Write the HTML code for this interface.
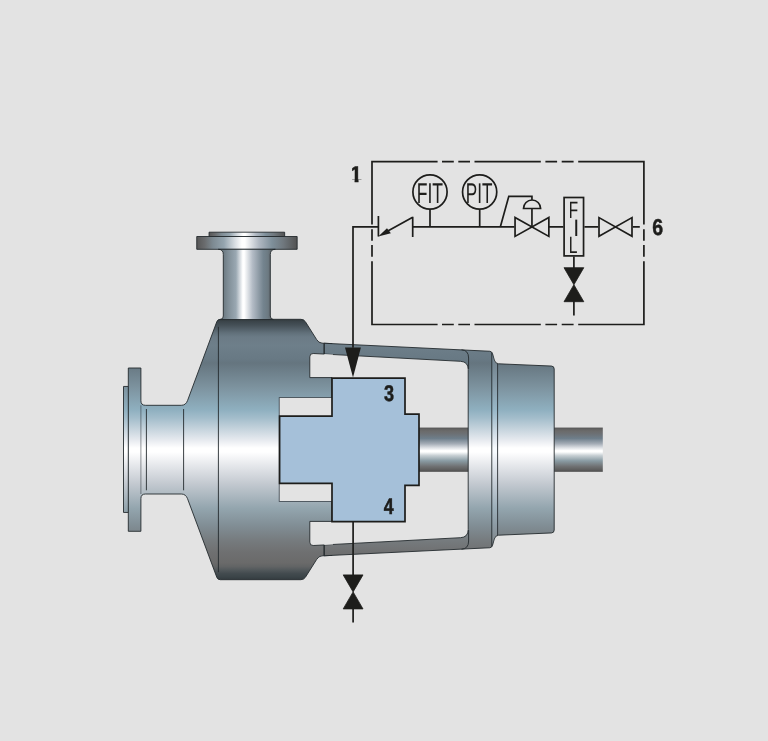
<!DOCTYPE html>
<html><head><meta charset="utf-8"><title>Pump seal plan</title>
<style>
html,body{margin:0;padding:0;background:#e3e3e3;}
body{width:768px;height:741px;overflow:hidden;}
svg{display:block;}
text{font-family:"Liberation Sans",sans-serif;fill:#1d1d1b;text-rendering:geometricPrecision;}
.b{font-weight:bold;stroke:#1d1d1b;stroke-width:0.5px;}
.th{stroke:#e3e3e3;stroke-width:0.2px;}
.l{stroke:#1d1d1b;stroke-width:1.7;fill:none;stroke-linecap:butt;stroke-linejoin:miter;}
.o{stroke:#242a2e;stroke-width:0.9;stroke-linejoin:round;}
.t{stroke:#242a2e;stroke-width:0.9;fill:none;}
</style></head><body>
<svg width="768" height="741" viewBox="0 0 768 741">
<defs>
<linearGradient id="gb" gradientUnits="userSpaceOnUse" x1="0" y1="319" x2="0" y2="580">

<stop offset="0.0011" stop-color="#2e363a"/>
<stop offset="0.0077" stop-color="#3a4348"/>
<stop offset="0.0230" stop-color="#444f56"/>
<stop offset="0.0383" stop-color="#525f68"/>
<stop offset="0.0536" stop-color="#61707a"/>
<stop offset="0.0690" stop-color="#6b7b86"/>
<stop offset="0.0996" stop-color="#6e7f8a"/>
<stop offset="0.1533" stop-color="#687984"/>
<stop offset="0.1686" stop-color="#65757f"/>
<stop offset="0.2628" stop-color="#7d939f"/>
<stop offset="0.3487" stop-color="#8fb0c0"/>
<stop offset="0.3793" stop-color="#a3bdcb"/>
<stop offset="0.4061" stop-color="#b9cbd6"/>
<stop offset="0.4655" stop-color="#e8ebf0"/>
<stop offset="0.4943" stop-color="#ffffff"/>
<stop offset="0.5096" stop-color="#ffffff"/>
<stop offset="0.5594" stop-color="#e6e8ec"/>
<stop offset="0.6314" stop-color="#c3c9d0"/>
<stop offset="0.7257" stop-color="#93a5ae"/>
<stop offset="0.7908" stop-color="#818e95"/>
<stop offset="0.8487" stop-color="#767b7e"/>
<stop offset="0.8927" stop-color="#6f7071"/>
<stop offset="0.9349" stop-color="#6a6a6a"/>
<stop offset="0.9483" stop-color="#626465"/>
<stop offset="0.9617" stop-color="#52585b"/>
<stop offset="0.9751" stop-color="#434b4f"/>
<stop offset="0.9885" stop-color="#3b4448"/>
<stop offset="0.9985" stop-color="#333b3f"/>
</linearGradient>
<linearGradient id="gs" x1="0" y1="0" x2="0" y2="1">
<stop offset="0" stop-color="#4a4a4a"/><stop offset="0.025" stop-color="#606060"/><stop offset="0.08" stop-color="#6b6b6b"/><stop offset="0.14" stop-color="#6c7074"/>
<stop offset="0.245" stop-color="#6e7e8a"/><stop offset="0.365" stop-color="#a4acb6"/><stop offset="0.46" stop-color="#dfe2e6"/><stop offset="0.52" stop-color="#ffffff"/><stop offset="0.55" stop-color="#ffffff"/>
<stop offset="0.63" stop-color="#c8d0d4"/><stop offset="0.75" stop-color="#8a9ca4"/><stop offset="0.875" stop-color="#707274"/><stop offset="0.96" stop-color="#5c5c5c"/><stop offset="1" stop-color="#4a4a4a"/>
</linearGradient>
<linearGradient id="gn" x1="0" y1="0" x2="1" y2="0">
<stop offset="0" stop-color="#565656"/><stop offset="0.08" stop-color="#6a6c6e"/><stop offset="0.16" stop-color="#7d8a92"/><stop offset="0.27" stop-color="#94a4ae"/>
<stop offset="0.38" stop-color="#d8dde2"/><stop offset="0.45" stop-color="#ffffff"/><stop offset="0.48" stop-color="#ffffff"/>
<stop offset="0.62" stop-color="#b0b8c2"/><stop offset="0.75" stop-color="#7e8f9a"/><stop offset="0.86" stop-color="#70787e"/><stop offset="1" stop-color="#525252"/>
</linearGradient>
<linearGradient id="gk" gradientUnits="userSpaceOnUse" x1="223.3" y1="0" x2="270.3" y2="0">
<stop offset="0" stop-color="#6c7a82"/><stop offset="0.1" stop-color="#7f8d96"/><stop offset="0.27" stop-color="#9aa8b2"/><stop offset="0.37" stop-color="#e0e4e8"/>
<stop offset="0.415" stop-color="#ffffff"/><stop offset="0.445" stop-color="#ffffff"/><stop offset="0.62" stop-color="#b4bcc6"/><stop offset="0.85" stop-color="#74848f"/>
<stop offset="0.95" stop-color="#6c7a82"/><stop offset="1" stop-color="#646c72"/>
</linearGradient>
</defs>

<rect width="768" height="741" fill="#e3e3e3"/>
<g class="o">
<rect x="196.75" y="236.5" width="100.4" height="12.8" fill="url(#gn)"/>
<rect x="209.05" y="232.2" width="75.6" height="4.3" fill="url(#gn)"/>
</g>
<rect x="415" y="427.6" width="56" height="44.2" fill="url(#gs)"/>
<rect x="553" y="427.6" width="49.8" height="44.2" fill="url(#gs)"/>
<g class="o" fill="url(#gb)">
<rect x="123.5" y="386.45" width="5" height="126.00000000000006"/>
<path d="M128.3 368 H140.9 V400.8 Q140.9 405.3 145.4 405.3 H181.3 Q185.8 405.3 187.54 400.6 L216.85 321.6 Q217.7 319.3 220.2 319.3
 H300.8 Q303.9 319.3 305.4 321.7 L316.6 339.5 Q318.6 342.9 322 343.15 L324 343.25 L332 343.6 V555.4 L324 555.75 L322 555.85 Q318.6 556.1 316.6 559.5 L305.4 577.3 Q303.9 579.7 300.8 579.7 H220.2 Q217.7 579.7 216.85 577.4
 L187.54 498.7 Q185.8 494.0 181.3 494.0 H145.4 Q140.9 494.0 140.9 498.5 V531.3 H128.3 Z"/>
</g>
<path class="t" d="M146.4 409 V490.3 M183.6 409 V490.3 M218.4 326.8 V572.2"/>
<path class="t" style="opacity:.55" d="M140.9 405.3 V494.0"/>
<path class="o" d="M220.3 319.5 Q223.3 319.3 223.3 316 V254.5 Q223.3 249.3 218.3 249.3 H275.3 Q270.3 249.3 270.3 254.5 V316 Q270.3 319.3 273.3 319.5 Z" fill="url(#gk)"/>
<path class="o" d="M324 343.25 L489.8 351.25 Q491.8 351.45 492.5 353.6 L494.3 360 Q495.3 363.6 498.5 363.8 L551.5 366.05 Q554.2 366.2 554.2 369
 V530.0 Q554.2 532.8 551.5 532.95 L498.5 535.2 Q495.3 535.4 494.3 539.0 L492.5 545.4 Q491.8 547.55 489.8 547.75 L324 555.75
 V544.95 L460.5 537.7 Q468.2 537.3 468.2 529.5 V369.5 Q468.2 361.7 460.5 361.3 L324 354.05 Z" fill="url(#gb)"/>
<path class="t" d="M491.8 352.5 V546.5 M497.6 364 V535.0"/>
<path class="t" d="M461.5 349.75 Q468.6 350.2 468.6 358 V369 M461.5 549.25 Q468.6 548.8 468.6 541.0 V530.0"/>
<path d="M492.3 354 L494.3 360 Q495.3 363.6 497.2 363.8 V535.2 Q495.3 535.4 494.3 539.0 L492.3 545.0 Z" fill="#cfe6f7" opacity="0.15"/>
<path class="t" d="M324.3 343.25 V354.05 M324.3 555.75 V544.95"/>
<path fill="#e3e3e3" d="M333 354.5 L313.2 353.5 Q309.8 353.3 309.8 356.8 V377.6 H333 Z"/>
<path class="t" d="M324.3 354.05 L313.2 353.5 Q309.8 353.3 309.8 356.8 V377.6 H332"/>
<path fill="#e3e3e3" d="M333 544.5 L313.2 545.5 Q309.8 545.7 309.8 542.2 V521.4 H333 Z"/>
<path class="t" d="M324.3 544.95 L313.2 545.5 Q309.8 545.7 309.8 542.2 V521.4 H332"/>
<rect fill="#e3e3e3" stroke="#39424a" stroke-width="0.8" x="279.2" y="397.6" width="54" height="103.79999999999995"/>
<path d="M332 378.1 H405 V414.2 H419 V485.4 H405 V521.7 H332 V483.4 H279.6 V416.1 H332 Z" fill="#a5c0d9" stroke="#1d1d1b" stroke-width="1.7" stroke-linejoin="miter"/>
<g class="l">
<path d="M371.15 161.7 H437.6 M442 161.7 H453.8 M458.3 161.7 H470 M474.5 161.7 H540.8 M545.4 161.7 H557.1 M561.7 161.7 H573.6 M578.2 161.7 H644.75 M371.15 324.5 H437.6 M442 324.5 H453.8 M458.3 324.5 H470 M474.5 324.5 H540.8 M545.4 324.5 H557.1 M561.7 324.5 H573.6 M578.2 324.5 H644.75 M372.0 161.7 V224.6 M372.0 229.2 V240.7 M372.0 245 V256.8 M372.0 261.3 V324.5 M643.9 161.7 V224.6 M643.9 229.2 V240.7 M643.9 245 V256.8 M643.9 261.3 V324.5"/>
<path d="M353 347.8 V226.9 H378.4 M412.7 226.9 H514.4 M549 226.9 H563.4 M584.4 226.9 H598.3 M632.8 226.9 H639.8"/>
<path d="M378.4 215.9 V236.4 M412.7 216.8 V236.9 M412.7 217.2 L386 232"/>
<path d="M430 209.5 V226.9 M479.7 209.5 V226.9"/>
<circle cx="430.0" cy="192.05" r="17.1"/><circle cx="479.65" cy="192.05" r="17.1"/>
<path d="M515.05 217.4 V236.4 L548.85 217.4 V236.4 Z"/>
<path d="M531.95 226.9 V208.5 M523.5 208.5 H540.6 A8.55 8.5 0 0 0 523.5 208.5 Z M531.95 200 V196.3 H508.8 L500.3 226.9"/>
<rect x="564.1" y="197.5" width="19.45" height="58.4"/>
<path d="M599.0 217.6 V236.20000000000002 L632.0 217.6 V236.20000000000002 Z"/>
<path d="M573.9 256.6 V268 M573.9 301 V315.6"/>
<path d="M353.1 522 V575 M353.1 609 V622.5"/>
</g>
<g fill="#1d1d1b">
<path d="M378.2 236.4 L387 228.2 L390.9 233.2 Z"/>
<path d="M345 347.5 H360.9 L353 377.6 Z"/>
<path d="M564.0 267.7 H583.8 L573.9 284.7 L583.8 301.7 H564.0 L573.9 284.7 Z" stroke="#1d1d1b" stroke-width="0.8"/>
<path d="M343.2 574.9 H363.0 L353.1 591.9 L363.0 608.9 H343.2 L353.1 591.9 Z" stroke="#1d1d1b" stroke-width="0.8"/>
</g>
<g opacity="0.999">
<clipPath id="c1"><path d="M352.1 160 H366 V179.4 H358.5 V186 H354.6 V179.4 H352.1 Z"/></clipPath>
<g clip-path="url(#c1)"><text class="b" transform="translate(349.96 182.3) scale(0.94 1)" font-size="22.7" text-anchor="start">1</text></g>
<text class="b" transform="translate(652.3 235.0) scale(0.856 1)" font-size="22.9" text-anchor="start">6</text>
<text class="b" transform="translate(383.9 400.65) scale(0.798 1)" font-size="22.7" text-anchor="start">3</text>
<text class="b" transform="translate(383.8 514.35) scale(0.792 1)" font-size="22.4" text-anchor="start">4</text>
<text class="" transform="translate(416.65 202.8) scale(0.615 1)" font-size="28.6" text-anchor="start">FIT</text>
<text class="" transform="translate(465.8 202.8) scale(0.6 1)" font-size="28.6" text-anchor="start">PIT</text>
<text class="" transform="translate(568.64 218.1) scale(0.645 1)" font-size="23.8" text-anchor="start">F</text>
<text class="" transform="translate(573.35 235.55) scale(0.9 1)" font-size="23.8" text-anchor="start">I</text>
<text class="" transform="translate(568.85 252.75) scale(0.657 1)" font-size="23.8" text-anchor="start">L</text>
</g>
</svg></body></html>
